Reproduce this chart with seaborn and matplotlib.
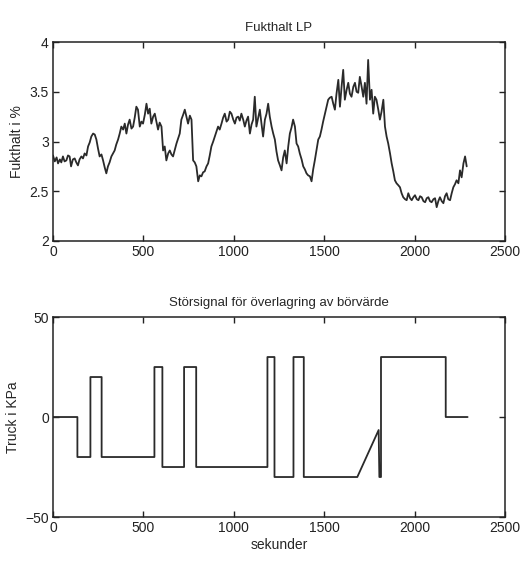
import matplotlib
matplotlib.use("Agg")
import matplotlib.pyplot as plt
import seaborn as sns
import pandas as pd

# Top panel: moisture (Fukthalt) in %
moist_t = [0, 10, 20, 28, 38, 46, 55, 64, 74, 83, 92, 100, 110, 120, 129, 138, 147, 157,
           166, 175, 185, 194, 203, 212, 222, 231, 240, 249, 258, 268, 277, 286, 295, 304,
           313, 323, 332, 341, 350, 360, 369, 378, 388, 397, 406, 415, 424, 434, 443, 452,
           461, 470, 480, 489, 498, 508, 517, 526, 535, 544, 554, 563, 572, 581, 590, 600,
           609, 618, 627, 637, 646, 655, 664, 674, 683, 692, 701, 710, 720, 729, 738, 747,
           757, 766, 775, 784, 793, 803, 812, 821, 830, 839, 849, 858, 867, 876, 886, 895,
           904, 913, 922, 932, 941, 950, 960, 969, 978, 987, 997, 1006, 1015, 1024, 1033,
           1042, 1052, 1061, 1070, 1079, 1089, 1098, 1107, 1116, 1125, 1135, 1144, 1153,
           1162, 1172, 1181, 1190, 1199, 1209, 1218, 1227, 1236, 1245, 1255, 1264, 1273,
           1282, 1292, 1301, 1310, 1319, 1328, 1338, 1347, 1356, 1365, 1375, 1384, 1393,
           1402, 1411, 1421, 1430, 1439, 1448, 1458, 1467, 1476, 1485, 1494, 1504, 1513,
           1522, 1531, 1541, 1550, 1559, 1568, 1578, 1587, 1596, 1605, 1614, 1624, 1633,
           1642, 1651, 1661, 1670, 1679, 1688, 1697, 1707, 1716, 1725, 1734, 1743, 1753,
           1762, 1771, 1780, 1789, 1799, 1808, 1817, 1827, 1836, 1845, 1854, 1864, 1873,
           1882, 1891, 1900, 1910, 1919, 1928, 1937, 1947, 1956, 1965, 1975, 1984, 1993,
           2002, 2012, 2021, 2030, 2039, 2049, 2058, 2067, 2076, 2085, 2094, 2104, 2113,
           2122, 2131, 2140, 2150, 2159, 2168, 2177, 2186, 2196, 2205, 2214, 2223, 2232,
           2242, 2251, 2260, 2270, 2279, 2288]
moist_v = [2.86, 2.80, 2.84, 2.78, 2.82, 2.79, 2.85, 2.80, 2.81, 2.86, 2.85, 2.75, 2.82,
           2.83, 2.79, 2.76, 2.82, 2.85, 2.83, 2.88, 2.86, 2.95, 2.99, 3.05, 3.08, 3.07,
           3.02, 2.93, 2.85, 2.87, 2.81, 2.74, 2.68, 2.75, 2.79, 2.85, 2.88, 2.91, 2.97,
           3.02, 3.08, 3.15, 3.12, 3.18, 3.08, 3.17, 3.22, 3.13, 3.15, 3.24, 3.35, 3.32,
           3.15, 3.20, 3.18, 3.27, 3.38, 3.28, 3.33, 3.18, 3.25, 3.28, 3.20, 3.12, 3.19,
           3.15, 2.91, 2.95, 2.81, 2.88, 2.91, 2.87, 2.85, 2.92, 2.98, 3.03, 3.08, 3.22,
           3.27, 3.32, 3.25, 3.18, 3.26, 3.22, 2.81, 2.79, 2.75, 2.60, 2.66, 2.65, 2.69,
           2.70, 2.75, 2.78, 2.86, 2.95, 3.00, 3.05, 3.10, 3.15, 3.12, 3.18, 3.24, 3.28,
           3.20, 3.22, 3.30, 3.28, 3.22, 3.18, 3.24, 3.25, 3.21, 3.28, 3.22, 3.15, 3.21,
           3.25, 3.08, 3.17, 3.22, 3.45, 3.15, 3.24, 3.32, 3.18, 3.05, 3.22, 3.28, 3.38,
           3.25, 3.15, 3.08, 3.02, 2.90, 2.81, 2.76, 2.71, 2.84, 2.91, 2.78, 2.95, 3.08,
           3.14, 3.22, 3.15, 2.98, 2.95, 2.88, 2.82, 2.75, 2.72, 2.68, 2.66, 2.65, 2.60,
           2.72, 2.81, 2.92, 3.02, 3.05, 3.12, 3.20, 3.28, 3.35, 3.42, 3.44, 3.45, 3.38,
           3.32, 3.48, 3.62, 3.35, 3.55, 3.72, 3.42, 3.52, 3.59, 3.48, 3.45, 3.55, 3.59,
           3.50, 3.49, 3.65, 3.55, 3.45, 3.59, 3.38, 3.82, 3.42, 3.52, 3.28, 3.45, 3.42,
           3.32, 3.22, 3.30, 3.42, 3.15, 3.05, 2.98, 2.88, 2.78, 2.70, 2.61, 2.58, 2.56,
           2.54, 2.48, 2.44, 2.42, 2.41, 2.48, 2.43, 2.41, 2.44, 2.46, 2.42, 2.41, 2.45,
           2.44, 2.40, 2.39, 2.43, 2.44, 2.40, 2.39, 2.42, 2.43, 2.34, 2.40, 2.44, 2.40,
           2.38, 2.45, 2.48, 2.42, 2.41, 2.48, 2.54, 2.57, 2.61, 2.58, 2.71, 2.64, 2.78,
           2.85, 2.75]

# Bottom panel: disturbance signal (Truck i KPa)
dist_t = [0, 135, 135, 207, 207, 269, 269, 561, 561, 605, 605, 725, 725, 792, 792,
          1186, 1186, 1225, 1225, 1330, 1330, 1387, 1387, 1683, 1801, 1805, 1814,
          1814, 2172, 2172, 2293]
dist_v = [0, 0, -20, -20, 20, 20, -20, -20, 25, 25, -25, -25, 25, 25, -25,
          -25, 30, 30, -30, -30, 30, 30, -30, -30, -6.5, -30, -30,
          30, 30, 0, 0]

x_ticks = [0, 500, 1000, 1500, 2000, 2500]
top_yticks = [2, 2.5, 3, 3.5, 4]
top_ylabels = ["2", "2.5", "3", "3.5", "4"]
bot_yticks = [-50, 0, 50]

sns.set_style("ticks")
plt.rcParams["font.family"] = ["Liberation Sans", "DejaVu Sans"]
plt.rcParams["font.size"] = 10

fig = plt.figure(figsize=(5.22, 5.64), dpi=100)
ax1 = fig.add_axes([0.1015, 0.5727, 0.866, 0.3528])
ax2 = fig.add_axes([0.1015, 0.0833, 0.866, 0.3546])

df1 = pd.DataFrame({"t": moist_t, "v": moist_v})
df2 = pd.DataFrame({"t": dist_t, "v": dist_v})

line_color = "#2a2a2a"
sns.lineplot(data=df1, x="t", y="v", ax=ax1, color=line_color, linewidth=1.3,
             sort=False, estimator=None)
sns.lineplot(data=df2, x="t", y="v", ax=ax2, color=line_color, linewidth=1.3,
             sort=False, estimator=None)

for ax in (ax1, ax2):
    ax.set_xlim(0, 2500)
    ax.set_xticks(x_ticks)
    ax.set_xticklabels([str(v) for v in x_ticks])
    ax.tick_params(direction="in", top=True, right=True, length=4, width=1,
                   labelsize=10, colors="#222222", pad=3)
    for sp in ax.spines.values():
        sp.set_visible(True)
        sp.set_linewidth(1.1)
        sp.set_color("#222222")

ax1.set_ylim(2, 4)
ax1.set_yticks(top_yticks)
ax1.set_yticklabels(top_ylabels)
ax1.set_title("Fukthalt LP", fontsize=9.5, pad=8)
ax1.set_xlabel("")
ax1.set_ylabel("Fukthalt i %", fontsize=10, labelpad=4)

ax2.set_ylim(-50, 50)
ax2.set_yticks(bot_yticks)
ax2.set_title("Störsignal för överlagring av börvärde", fontsize=9.5, pad=8)
ax2.set_xlabel("sekunder", fontsize=10, labelpad=2)
ax2.set_ylabel("Truck i KPa", fontsize=10, labelpad=4)

fig.savefig("out.png", dpi=100)
